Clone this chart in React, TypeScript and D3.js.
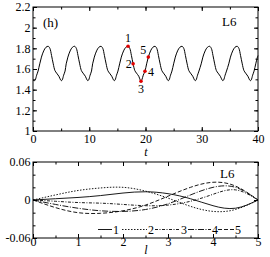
import React, { useRef, useEffect } from "react";
import * as d3 from "d3";

// top panel: time series (h) L6
const tValues = [
  0, 0.25, 0.4, 0.65, 0.9, 1.2, 1.5, 1.9, 2.3, 2.7,
  3.0, 3.3, 3.6, 3.9, 4.2, 4.6, 4.9, 5.05, 5.2, 5.45, 5.7, 5.9, 6.2, 6.6, 7.0, 7.4,
  7.7, 8.0, 8.3, 8.6, 8.9, 9.3, 9.6, 9.75, 9.9, 10.15, 10.4, 10.6, 10.9, 11.3, 11.7, 12.1,
  12.4, 12.7, 13.0, 13.3, 13.6, 14.0, 14.3, 14.45, 14.6, 14.85, 15.1, 15.4, 15.7, 16.1, 16.5, 16.9,
  17.2, 17.5, 17.8, 18.1, 18.4, 18.8, 19.05, 19.2, 19.35, 19.6, 19.9, 20.2, 20.5, 20.9, 21.3, 21.7,
  22.0, 22.3, 22.6, 22.9, 23.2, 23.6, 23.9, 24.05, 24.2, 24.45, 24.7, 25.0, 25.3, 25.7, 26.1, 26.5,
  26.8, 27.1, 27.4, 27.7, 28.0, 28.4, 28.7, 28.85, 29.0, 29.25, 29.5, 29.9, 30.2, 30.6, 31.0, 31.4,
  31.7, 32.0, 32.3, 32.6, 32.9, 33.3, 33.6, 33.75, 33.9, 34.15, 34.4, 34.8, 35.1, 35.5, 35.9, 36.3,
  36.6, 36.9, 37.2, 37.5, 37.8, 38.2, 38.5, 38.65, 38.8, 39.05, 39.3, 39.6, 39.9, 40.0,
];
const hValues = [
  1.49, 1.487, 1.495, 1.54, 1.58, 1.65, 1.715, 1.775, 1.81, 1.82,
  1.8, 1.73, 1.65, 1.585, 1.56, 1.53, 1.495, 1.487, 1.495, 1.54, 1.58, 1.65, 1.715, 1.775, 1.81, 1.82,
  1.8, 1.73, 1.65, 1.585, 1.56, 1.53, 1.495, 1.487, 1.495, 1.54, 1.58, 1.65, 1.715, 1.775, 1.81, 1.82,
  1.8, 1.73, 1.65, 1.585, 1.56, 1.53, 1.495, 1.487, 1.495, 1.54, 1.58, 1.65, 1.715, 1.775, 1.81, 1.82,
  1.8, 1.73, 1.65, 1.585, 1.56, 1.53, 1.495, 1.482, 1.495, 1.54, 1.578, 1.65, 1.715, 1.775, 1.81, 1.82,
  1.8, 1.73, 1.65, 1.585, 1.56, 1.53, 1.495, 1.487, 1.495, 1.54, 1.58, 1.65, 1.715, 1.775, 1.81, 1.82,
  1.8, 1.73, 1.65, 1.585, 1.56, 1.53, 1.495, 1.487, 1.495, 1.54, 1.58, 1.65, 1.715, 1.775, 1.81, 1.82,
  1.8, 1.73, 1.65, 1.585, 1.56, 1.53, 1.495, 1.487, 1.495, 1.54, 1.58, 1.65, 1.715, 1.775, 1.81, 1.82,
  1.8, 1.73, 1.65, 1.585, 1.56, 1.53, 1.495, 1.487, 1.495, 1.54, 1.58, 1.65, 1.715, 1.73,
];
const markT = [16.9, 17.8, 19.2, 19.9, 20.5];
const markH = [1.82, 1.65, 1.482, 1.578, 1.715];
const markNames = ["1", "2", "3", "4", "5"];
const tTicks = [0, 10, 20, 30, 40];
const hTicks = [1, 1.2, 1.4, 1.6, 1.8, 2, 2.2];

// bottom panel: profiles along l
const lValues = [0, 0.5, 1, 1.5, 2, 2.5, 3, 3.5, 4, 4.5, 5];
const mode1 = [0, 0.002, 0.004, 0.007, 0.011, 0.013, 0.01, 0.002, -0.009, -0.013, 0];
const mode2 = [0, 0.008, 0.015, 0.019, 0.02, 0.014, 0.003, -0.01, -0.018, -0.015, 0];
const mode3 = [0, -0.002, -0.004, -0.005, -0.007, -0.009, -0.008, -0.002, 0.009, 0.016, 0];
const mode4 = [0, -0.007, -0.013, -0.017, -0.018, -0.015, -0.006, 0.008, 0.02, 0.02, 0];
const mode5 = [0, -0.012, -0.02, -0.021, -0.017, -0.008, 0.006, 0.02, 0.028, 0.022, 0];
const modes = [mode1, mode2, mode3, mode4, mode5];
const lTicks = [0, 1, 2, 3, 4, 5];
const pTicks = [-0.06, 0, 0.06];

const FONT = "'Liberation Serif', 'Times New Roman', serif";
const dashes = ["none", "1.5,1.5", "3,1.5,1,1.5", "6,1.5,1,1.5", "4,2"];

function frame(svg, x, y, o) {
  const [x0, x1] = x.range();
  const [y0, y1] = y.range();
  const g = svg.append("g");
  const mk = (axis, tx, ty, vals, size, fmt, pad) => {
    const a = axis.tickValues(vals).tickSize(size).tickPadding(pad).tickFormat(fmt);
    const s = g.append("g").attr("transform", `translate(${tx},${ty})`).call(a);
    s.select(".domain").remove();
    s.attr("font-family", null).attr("font-size", null);
    s.selectAll("text").style("font-family", FONT).style("font-size", "12px").attr("fill", "#000");
    s.selectAll("line").attr("stroke", "#000");
    return s;
  };
  const none = () => "";
  // bottom / top
  mk(d3.axisBottom(x), 0, y0, o.xMinor, -2.5, none, 0);
  mk(d3.axisTop(x), 0, y1, o.xMinor, -2.5, none, 0);
  mk(d3.axisTop(x), 0, y1, o.xMajor, -4, none, 0);
  mk(d3.axisBottom(x), 0, y0, o.xMajor, -4, o.xFmt, o.xPad);
  // left / right
  mk(d3.axisLeft(y), x0, 0, o.yMinor, -2.5, none, 0);
  mk(d3.axisRight(y), x1, 0, o.yMinor, -2.5, none, 0);
  mk(d3.axisRight(y), x1, 0, o.yMajor, -4, none, 0);
  mk(d3.axisLeft(y), x0, 0, o.yMajor, -4, o.yFmt, 2.5);
  g.append("rect")
    .attr("x", x0).attr("y", y1)
    .attr("width", x1 - x0).attr("height", y0 - y1)
    .attr("fill", "none").attr("stroke", "#000").attr("stroke-width", 1);
}

function label(svg, x, y, txt, size, anchor = "start", italic = false) {
  return svg.append("text")
    .attr("x", x).attr("y", y)
    .attr("text-anchor", anchor)
    .style("font-family", FONT)
    .style("font-size", size + "px")
    .style("font-style", italic ? "italic" : "normal")
    .text(txt);
}

export default function App() {
  const svgRef = useRef(null);

  useEffect(() => {
    const svg = d3.select(svgRef.current);
    svg.selectAll("*").remove();

    // ---------- top panel ----------
    const x = d3.scaleLinear().domain([0, 40]).range([33, 258]);
    const y = d3.scaleLinear().domain([1, 2.2]).range([131, 7]);

    frame(svg, x, y, {
      xMajor: tTicks,
      xMinor: d3.range(0, 41, 5),
      yMajor: hTicks,
      yMinor: d3.range(1, 2.21, 0.1),
      xFmt: d3.format("d"),
      yFmt: (d) => (d === 1 || d === 2 ? String(d) : d3.format(".1f")(d)),
      xPad: 3.5,
    });

    const line = d3.line()
      .x((d, i) => x(tValues[i]))
      .y((d) => y(d))
      .curve(d3.curveCatmullRom.alpha(0.5));
    svg.append("path")
      .attr("d", line(hValues))
      .attr("fill", "none")
      .attr("stroke", "#000")
      .attr("stroke-width", 1);

    const labelOff = [[0, -4, "middle"], [-1.5, 4, "end"], [0, 12, "middle"], [3, 5, "start"], [-2, -3, "end"]];
    markT.forEach((t, i) => {
      svg.append("circle")
        .attr("cx", x(t)).attr("cy", y(markH[i])).attr("r", 1.8)
        .attr("fill", "#e00000");
      label(svg, x(t) + labelOff[i][0], y(markH[i]) + labelOff[i][1], markNames[i], 12, labelOff[i][2]);
    });

    label(svg, 43, 27, "(h)", 13);
    label(svg, 222, 26, "L6", 13);
    label(svg, 146, 156, "t", 12, "middle", true);

    // ---------- bottom panel ----------
    const x2 = d3.scaleLinear().domain([0, 5]).range([33, 258]);
    const y2 = d3.scaleLinear().domain([-0.06, 0.06]).range([238, 162]);

    frame(svg, x2, y2, {
      xMajor: lTicks,
      xMinor: d3.range(0, 5.01, 0.5),
      yMajor: pTicks,
      yMinor: d3.range(-0.06, 0.0601, 0.02),
      xFmt: d3.format("d"),
      yFmt: (d) => (d === 0 ? "0" : (d < 0 ? "-" : "") + d3.format(".2f")(Math.abs(d))),
      xPad: -0.5,
    });

    const line2 = d3.line()
      .x((d, i) => x2(lValues[i]))
      .y((d) => y2(d))
      .curve(d3.curveNatural);
    modes.forEach((m, i) => {
      svg.append("path")
        .attr("d", line2(m))
        .attr("fill", "none")
        .attr("stroke", "#000")
        .attr("stroke-width", 0.9)
        .attr("stroke-dasharray", dashes[i]);
    });

    label(svg, 220, 178, "L6", 13);
    label(svg, 146, 254, "l", 12, "middle", true);

    // legend
    const legX = [98, 122, 155, 188, 218];
    const legW = [14, 25, 25, 23, 16];
    markNames.forEach((n, i) => {
      svg.append("line")
        .attr("x1", legX[i]).attr("x2", legX[i] + legW[i])
        .attr("y1", 229.5).attr("y2", 229.5)
        .attr("stroke", "#000").attr("stroke-width", 0.9)
        .attr("stroke-dasharray", dashes[i]);
      label(svg, legX[i] + legW[i] + 1, 233.5, n, 12);
    });
  }, []);

  return (
    <div className="App">
      <svg
        ref={svgRef}
        width={270}
        height={257}
        style={{ position: "absolute", left: 0, top: 0, background: "#fff" }}
      ></svg>
    </div>
  );
}
